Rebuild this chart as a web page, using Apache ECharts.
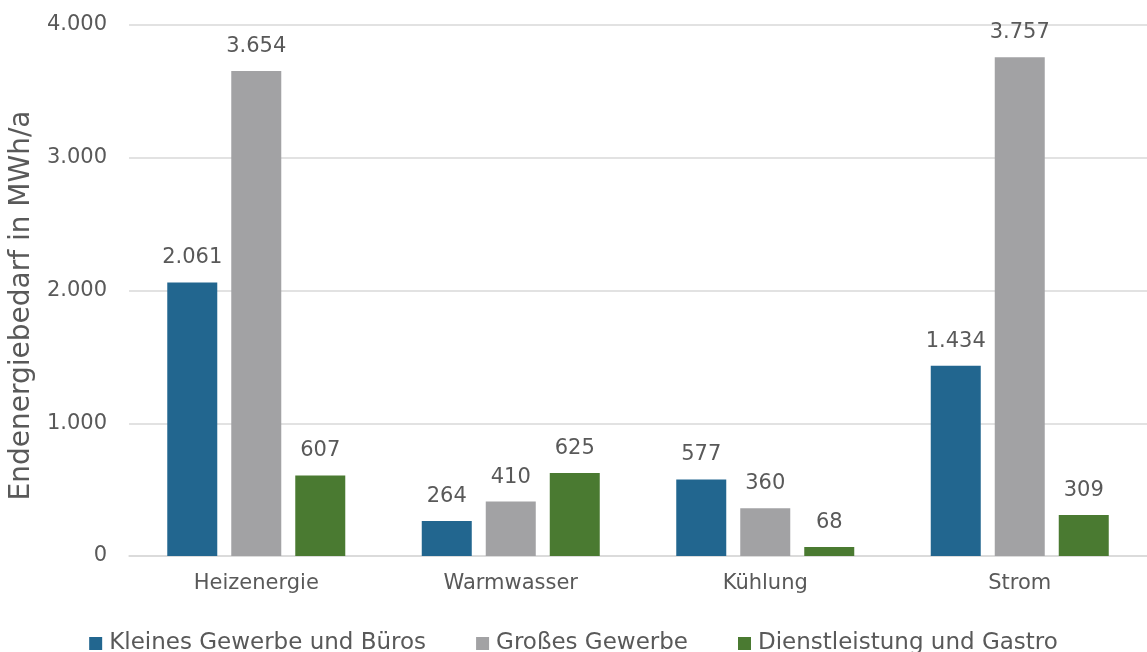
<!DOCTYPE html>
<html>
<head>
<meta charset="utf-8">
<script src="https://cdn.jsdelivr.net/npm/echarts@6/dist/echarts.min.js"></script>
<style>
  html, body { margin: 0; padding: 0; background: #ffffff; }
  #chart { width: 1147px; height: 652px; }
</style>
</head>
<body>
<div id="chart"></div>
<script>
// Endenergiebedarf nach Nutzung und Verbrauchergruppe (MWh/a)
const categories = ['Heizenergie', 'Warmwasser', 'Kühlung', 'Strom'];
const seriesNames = ['Kleines Gewerbe und Büros', 'Großes Gewerbe', 'Dienstleistung und Gastro'];
const kleinesGewerbe = [2061, 264, 577, 1434];
const grossesGewerbe = [3654, 410, 360, 3757];
const dienstleistung = [607, 625, 68, 309];
const yTicks = [0, 1000, 2000, 3000, 4000];

const colors = ['#22668F', '#A2A2A4', '#4A7A31'];
const textColor = '#595959';
const font = 'DejaVu Sans';

// German number format: thousands separated by a dot
function fmt(v) {
  return String(Math.round(v)).replace(/\B(?=(\d{3})+(?!\d))/g, '.');
}

const chart = echarts.init(document.getElementById('chart'), null, { renderer: 'canvas' });

function barSeries(name, data, color) {
  return {
    name: name,
    type: 'bar',
    data: data,
    barWidth: 50,
    barGap: '28%',
    itemStyle: { color: color },
    label: {
      show: true,
      position: 'top',
      distance: 14,
      color: textColor,
      fontFamily: font,
      fontSize: 21,
      formatter: p => fmt(p.value)
    }
  };
}

chart.setOption({
  animation: false,
  backgroundColor: '#ffffff',
  textStyle: { fontFamily: font, color: textColor },
  grid: { left: 129, right: -7, top: 25, bottom: 96, containLabel: false },
  legend: {
    data: seriesNames,
    left: 'center',
    top: 627,
    itemWidth: 13,
    itemHeight: 13,
    itemGap: 50,
    icon: 'rect',
    textStyle: { color: textColor, fontFamily: font, fontSize: 23, padding: [0, 0, 0, 2] }
  },
  xAxis: {
    type: 'category',
    data: categories,
    axisLine: { show: true, lineStyle: { color: '#D9D9D9', width: 1.5 } },
    axisTick: { show: false },
    axisLabel: { color: textColor, fontFamily: font, fontSize: 21, margin: 17 },
    splitLine: { show: false }
  },
  yAxis: {
    type: 'value',
    min: yTicks[0],
    max: yTicks[yTicks.length - 1],
    interval: yTicks[1] - yTicks[0],
    name: 'Endenergiebedarf in MWh/a',
    nameLocation: 'middle',
    nameRotate: 90,
    nameGap: 88,
    nameTextStyle: { color: textColor, fontFamily: font, fontSize: 28, padding: [0, 30, 0, 0] },
    axisLine: { show: false },
    axisTick: { show: false },
    axisLabel: { color: textColor, fontFamily: font, fontSize: 21, margin: 22, formatter: v => fmt(v) },
    splitLine: { show: true, lineStyle: { color: '#D9D9D9', width: 1.5 } }
  },
  series: [
    barSeries(seriesNames[0], kleinesGewerbe, colors[0]),
    barSeries(seriesNames[1], grossesGewerbe, colors[1]),
    barSeries(seriesNames[2], dienstleistung, colors[2])
  ]
});
</script>
</body>
</html>
